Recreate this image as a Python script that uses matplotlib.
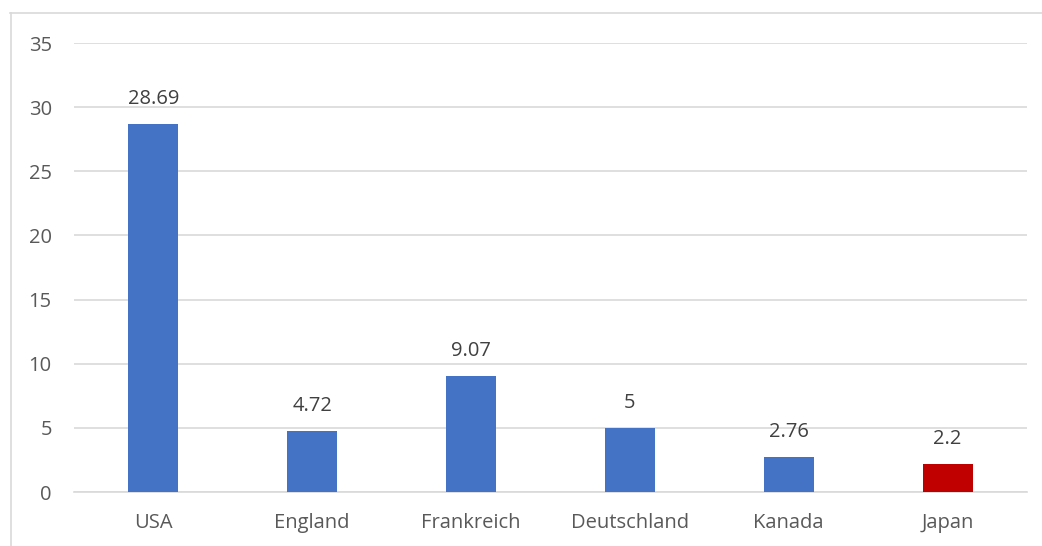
import matplotlib.pyplot as plt
from matplotlib.lines import Line2D

countries = ["USA", "England", "Frankreich", "Deutschland", "Kanada", "Japan"]
values = [28.69, 4.72, 9.07, 5, 2.76, 2.2]
labels = ["28.69", "4.72", "9.07", "5", "2.76", "2.2"]
colors = ["#4472C4"] * 5 + ["#C00000"]
yticks = [0, 5, 10, 15, 20, 25, 30, 35]

plt.rcParams['font.family'] = ['Open Sans', 'DejaVu Sans']

fig = plt.figure(figsize=(10.42, 5.46), dpi=100)
ax = fig.add_axes([74 / 1042, 54 / 546, 953 / 1042, 449 / 546])

x = range(len(countries))
ax.bar(x, values, width=0.315, color=colors, zorder=3)
for i, v in enumerate(values):
    ax.annotate(labels[i], (i, v), xytext=(0, 18), textcoords="offset points",
                ha="center", va="center", fontsize=14.5, color="#404040")

ax.set_xlim(-0.5, len(countries) - 0.5)
ax.set_ylim(0, 35)
ax.set_yticks(yticks)
ax.set_xticks(list(x))
ax.set_xticklabels(countries)
ax.grid(axis="y", color="#d9d9d9", linewidth=1.2, zorder=0)
ax.tick_params(axis="y", length=0, pad=16, labelsize=14.5, labelcolor="#595959")
ax.tick_params(axis="x", length=0, pad=15, labelsize=14.5, labelcolor="#595959")
for s in ["top", "right", "left"]:
    ax.spines[s].set_visible(False)
ax.spines["bottom"].set_color("#d9d9d9")
ax.spines["bottom"].set_linewidth(1.2)

# chart border (cropped on right and bottom)
fig.add_artist(Line2D([10.5 / 1042, 10.5 / 1042], [0, 1 - 13 / 546], color="#d9d9d9", lw=1.2))
fig.add_artist(Line2D([10 / 1042, 1], [1 - 13 / 546, 1 - 13 / 546], color="#d9d9d9", lw=1.2))

fig.savefig("out.png", dpi=100)
